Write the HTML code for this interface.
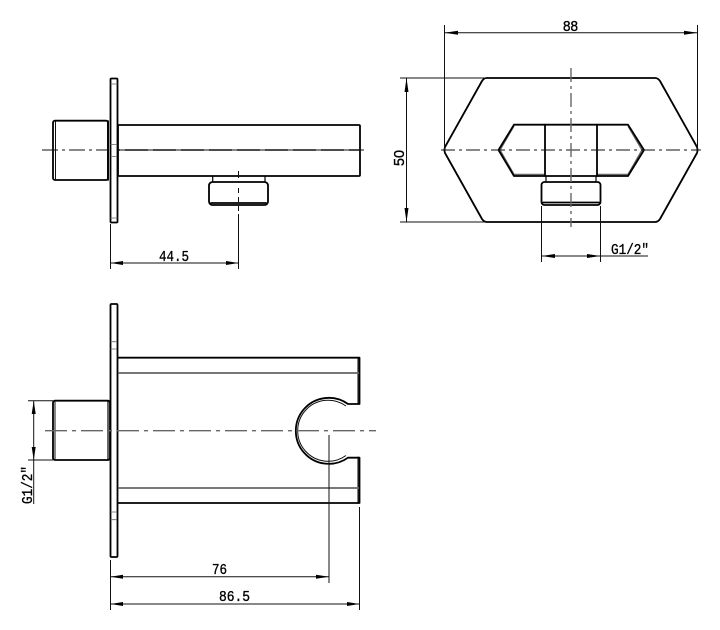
<!DOCTYPE html>
<html><head><meta charset="utf-8"><style>
html,body{margin:0;padding:0;background:#fff}
svg{display:block}
text{font-family:"Liberation Mono",monospace;font-size:15px;fill:#000;stroke:#000;stroke-width:.35}
.o{fill:none;stroke:#000;stroke-width:1.8;stroke-linejoin:round;stroke-linecap:round}
.f{fill:#fff;stroke:#000;stroke-width:1.8;stroke-linejoin:round}
.t{fill:none;stroke:#111;stroke-width:1}
.g{fill:none;stroke:#666;stroke-width:1.5}
.cg{fill:none;stroke:#666;stroke-width:1.4}
.a{fill:#000}
</style></head><body>
<svg width="720" height="630" viewBox="0 0 720 630" xmlns="http://www.w3.org/2000/svg">

<!-- TOP LEFT VIEW -->
<rect class="f" x="53" y="120.7" width="55" height="59.3" rx="2"/>
<path class="t" d="M55.5 121V180"/>
<path class="o" d="M108 121V180"/>
<rect class="f" x="110.5" y="78.5" width="7" height="144" rx="1"/>
<path class="g" d="M110.5 144.5H117.5M110.5 156.5H117.5M110.5 84H117.5M110.5 218H117.5" style="stroke-width:.8"/>
<rect class="f" x="118" y="125" width="242" height="51" rx="1"/>
<path d="M118 150H360" stroke="#111" stroke-width="1.5"/>
<path d="M118 150H360" stroke="#888" stroke-width="1.5" stroke-dasharray="5 23" stroke-dashoffset="-2"/>
<path class="t" d="M42 150H108M360 150H364" stroke-dasharray="16 4 3 4"/>
<path class="o" d="M212.7 176V182M265 176V182" style="stroke-width:1.2"/>
<rect class="f" x="209" y="182" width="59" height="23" rx="3.5"/>
<path class="o" d="M211 203H266"/>
<path class="t" d="M238.5 171V182" stroke-dasharray="7 3"/>
<path class="t" d="M238.5 188V214" stroke-dasharray="5 4"/>
<path class="t" d="M238.5 214V269"/>
<path class="t" d="M110.5 224V269"/>
<path class="t" d="M110.5 263H238.5"/>
<polygon class="a" points="110.5,263 123,261 123,265"/>
<polygon class="a" points="238.5,263 226,261 226,265"/>
<text x="159" y="261" textLength="30" lengthAdjust="spacingAndGlyphs">44.5</text>

<!-- TOP RIGHT VIEW -->
<path class="o" d="M486.5 78H655Q658 78 660 81L697 147Q698 150 697 153L660 219Q658 222 655 222H487Q484 222 482 219L445 153Q444 150 445 147L482 81Q484 78 486.5 78Z"/>
<path class="g" d="M514 126L500 150L514 174.5H545M597 174.5H628L642 150L628 126" style="stroke-width:1.4"/>
<path class="o" d="M545 124.7H514L498.5 150L514 176H545M597 124.7H628L644 150L628 176H597"/>
<rect class="f" x="545" y="124.7" width="52" height="51.3"/>
<path class="o" d="M546 176V182M596 176V182" style="stroke-width:1.2"/>
<rect class="f" x="541.5" y="182" width="59" height="23" rx="3"/>
<path class="o" d="M543 202.5H599"/>
<path class="t" d="M441 150H701" stroke-dasharray="14 4 3 4"/>
<path class="cg" d="M571 68V227" stroke-dasharray="14 4 3 4"/>
<path class="t" d="M444.5 25V150M697.5 25V150"/>
<path class="t" d="M445 32.7H697"/>
<polygon class="a" points="444.5,32.7 458,30.7 458,34.7"/>
<polygon class="a" points="697.5,32.7 684,30.7 684,34.7"/>
<text x="563" y="31" textLength="15" lengthAdjust="spacingAndGlyphs" style="font-family:'Liberation Sans',sans-serif">88</text>
<path class="t" d="M400 78H486M400 222H486"/>
<path class="t" d="M406.5 78V222"/>
<polygon class="a" points="406.5,78 404.5,92 408.5,92"/>
<polygon class="a" points="406.5,222 404.5,208 408.5,208"/>
<text transform="translate(404 166) rotate(-90)" textLength="16" lengthAdjust="spacingAndGlyphs" style="font-family:'Liberation Sans',sans-serif">50</text>
<path class="t" d="M541.5 206V262M600.5 206V262"/>
<path class="t" d="M541.5 256H648"/>
<polygon class="a" points="541.5,256 555,254 555,258"/>
<polygon class="a" points="600.5,256 587,254 587,258"/>
<text x="611" y="254" textLength="38" lengthAdjust="spacingAndGlyphs">G1/2"</text>

<!-- BOTTOM VIEW -->
<rect class="f" x="53" y="400.7" width="57" height="59.3" rx="2"/>
<path class="t" d="M55 401V460"/>
<path class="o" d="M108 401V460" style="stroke-width:1.2"/>
<rect class="f" x="110.5" y="304" width="7" height="253" rx="1"/>
<path class="g" d="M110.5 341.7H117M110.5 349H117M110.5 512H117M110.5 519.7H117" style="stroke-width:.8"/>
<path class="o" d="M118 357.7H359.5V404H348A33 33 0 1 0 348 457.7H359.5V503H118"/>
<path class="t" d="M346 406A30.5 30.5 0 1 0 346 455.5"/>
<path class="o" d="M358 358V404M358 457V503" style="stroke-width:1"/>
<path class="g" d="M118 373H359M118 488H359" style="stroke-width:1.7"/>
<path class="cg" d="M45 430.7H376" stroke-dasharray="22 5 4 5"/>
<path class="t" d="M329 435V583"/>
<path class="t" d="M110.5 560V610M359.5 507V610"/>
<path class="t" d="M110.5 576.7H329"/>
<polygon class="a" points="110.5,576.7 123,574.7 123,578.7"/>
<polygon class="a" points="329,576.7 316,574.7 316,578.7"/>
<text x="212" y="574" textLength="15" lengthAdjust="spacingAndGlyphs">76</text>
<path class="t" d="M110.5 604H359.5"/>
<polygon class="a" points="110.5,604 123,602 123,606"/>
<polygon class="a" points="359.5,604 347,602 347,606"/>
<text x="219" y="601" textLength="31" lengthAdjust="spacingAndGlyphs">86.5</text>
<path class="t" d="M28 400.7H53M28 460H53"/>
<path class="t" d="M33.7 401V504"/>
<polygon class="a" points="33.7,400.7 31.7,414 35.7,414"/>
<polygon class="a" points="33.7,460 31.7,447 35.7,447"/>
<text transform="translate(32 504) rotate(-90)" textLength="38" lengthAdjust="spacingAndGlyphs">G1/2"</text>
</svg>
</body></html>
